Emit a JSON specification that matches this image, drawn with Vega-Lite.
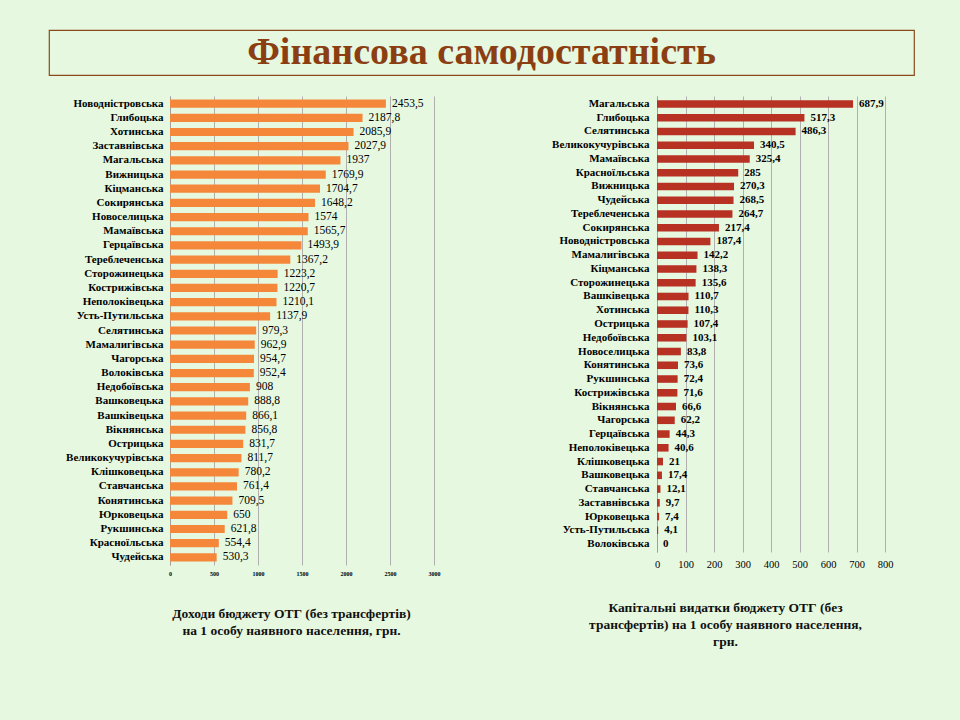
{
  "$schema": "https://vega.github.io/schema/vega-lite/v6.json",
  "background": "#E6F8E0",
  "padding": {"left": 48, "top": 29, "right": 80, "bottom": 120},
  "autosize": {"type": "pad"},
  "datasets": {
    "income": [
      {"name": "Новодністровська", "v": 2453.5},
      {"name": "Глибоцька", "v": 2187.8},
      {"name": "Хотинська", "v": 2085.9},
      {"name": "Заставнівська", "v": 2027.9},
      {"name": "Магальська", "v": 1937},
      {"name": "Вижницька", "v": 1769.9},
      {"name": "Кіцманська", "v": 1704.7},
      {"name": "Сокирянська", "v": 1648.2},
      {"name": "Новоселицька", "v": 1574},
      {"name": "Мамаївська", "v": 1565.7},
      {"name": "Герцаївська", "v": 1493.9},
      {"name": "Тереблеченська", "v": 1367.2},
      {"name": "Сторожинецька", "v": 1223.2},
      {"name": "Кострижівська", "v": 1220.7},
      {"name": "Неполоківецька", "v": 1210.1},
      {"name": "Усть-Путильська", "v": 1137.9},
      {"name": "Селятинська", "v": 979.3},
      {"name": "Мамалигівська", "v": 962.9},
      {"name": "Чагорська", "v": 954.7},
      {"name": "Волоківська", "v": 952.4},
      {"name": "Недобоївська", "v": 908},
      {"name": "Вашковецька", "v": 888.8},
      {"name": "Вашківецька", "v": 866.1},
      {"name": "Вікнянська", "v": 856.8},
      {"name": "Острицька", "v": 831.7},
      {"name": "Великокучурівська", "v": 811.7},
      {"name": "Клішковецька", "v": 780.2},
      {"name": "Ставчанська", "v": 761.4},
      {"name": "Конятинська", "v": 709.5},
      {"name": "Юрковецька", "v": 650},
      {"name": "Рукшинська", "v": 621.8},
      {"name": "Красноїльська", "v": 554.4},
      {"name": "Чудейська", "v": 530.3}
    ],
    "capex": [
      {"name": "Магальська", "v": 687.9},
      {"name": "Глибоцька", "v": 517.3},
      {"name": "Селятинська", "v": 486.3},
      {"name": "Великокучурівська", "v": 340.5},
      {"name": "Мамаївська", "v": 325.4},
      {"name": "Красноїльська", "v": 285},
      {"name": "Вижницька", "v": 270.3},
      {"name": "Чудейська", "v": 268.5},
      {"name": "Тереблеченська", "v": 264.7},
      {"name": "Сокирянська", "v": 217.4},
      {"name": "Новодністровська", "v": 187.4},
      {"name": "Мамалигівська", "v": 142.2},
      {"name": "Кіцманська", "v": 138.3},
      {"name": "Сторожинецька", "v": 135.6},
      {"name": "Вашківецька", "v": 110.7},
      {"name": "Хотинська", "v": 110.3},
      {"name": "Острицька", "v": 107.4},
      {"name": "Недобоївська", "v": 103.1},
      {"name": "Новоселицька", "v": 83.8},
      {"name": "Конятинська", "v": 73.6},
      {"name": "Рукшинська", "v": 72.4},
      {"name": "Кострижівська", "v": 71.6},
      {"name": "Вікнянська", "v": 66.6},
      {"name": "Чагорська", "v": 62.2},
      {"name": "Герцаївська", "v": 44.3},
      {"name": "Неполоківецька", "v": 40.6},
      {"name": "Клішковецька", "v": 21},
      {"name": "Вашковецька", "v": 17.4},
      {"name": "Ставчанська", "v": 12.1},
      {"name": "Заставнівська", "v": 9.7},
      {"name": "Юрковецька", "v": 7.4},
      {"name": "Усть-Путильська", "v": 4.1},
      {"name": "Волоківська", "v": 0}
    ]
  },
  "vconcat": [
    {
      "width": 865,
      "height": 45,
      "data": {"values": [{"t": "Фінансова самодостатність"}]},
      "view": {"stroke": "#8B4A1C", "strokeWidth": 1.2},
      "mark": {"type": "text", "font": "Liberation Serif", "fontWeight": "bold", "fontSize": 38, "color": "#8B3E12", "baseline": "middle", "align": "center"},
      "encoding": {"text": {"field": "t"}}
    },
    {
      "hconcat": [
        {
          "hconcat": [
            {
              "width": 1,
              "height": 1,
              "data": {"values": []},
              "mark": {"type": "text"},
              "encoding": {}
            },
            {
              "width": 264,
              "height": 469,
              "data": {"name": "income"},
              "transform": [{"calculate": "replace(toString(datum.v), '.', ',')", "as": "lbl"}],
              "encoding": {
                "y": {"field": "name", "type": "nominal", "sort": "-x", "title": null,
                  "scale": {"paddingInner": 0.42, "paddingOuter": 0.25},
                  "axis": {"ticks": false, "labelPadding": 7, "minExtent": 120, "labelFont": "Liberation Serif", "labelFontWeight": "bold", "labelFontSize": 11, "labelColor": "#000", "domainColor": "#A0A0A0"}},
                "x": {"field": "v", "type": "quantitative", "scale": {"domain": [0, 3000], "nice": false},
                  "axis": {"values": [0, 500, 1000, 1500, 2000, 2500, 3000], "format": "d", "ticks": false, "domain": false, "grid": true, "gridColor": "#B0B0B0", "labelFlush": false,
                    "labelFont": "Liberation Serif", "labelFontWeight": "bold", "labelFontSize": 6, "labelColor": "#000", "labelPadding": 5,
                    "title": ["Доходи  бюджету ОТГ (без трансфертів)", "на 1 особу  наявного  населення,  грн."],
                    "titleFont": "Liberation Serif", "titleFontWeight": "bold", "titleFontSize": 13.5, "titleColor": "#111", "titlePadding": 30, "titleX": 121, "titleLineHeight": 17}}
              },
              "layer": [
                {"mark": {"type": "bar", "color": "#F5873A"}},
                {"mark": {"type": "text", "align": "left", "dx": 6, "font": "Liberation Serif", "fontSize": 11.5, "color": "#000"},
                  "encoding": {"text": {"field": "lbl"}}}
              ]
            }
          ],
          "spacing": 0
        },
        {
          "width": 228,
          "height": 456,
          "data": {"name": "capex"},
          "transform": [{"calculate": "replace(toString(datum.v), '.', ',')", "as": "lbl"}],
          "encoding": {
            "y": {"field": "name", "type": "nominal", "sort": "-x", "title": null,
              "scale": {"paddingInner": 0.45, "paddingOuter": 0.3},
              "axis": {"ticks": false, "labelPadding": 8, "labelFont": "Liberation Serif", "labelFontWeight": "bold", "labelFontSize": 11, "labelColor": "#000", "domainColor": "#A0A0A0"}},
            "x": {"field": "v", "type": "quantitative", "scale": {"domain": [0, 800], "nice": false},
              "axis": {"values": [0, 100, 200, 300, 400, 500, 600, 700, 800], "format": "d", "ticks": false, "domain": false, "grid": true, "gridColor": "#B0B0B0", "labelFlush": false,
                "labelFont": "Liberation Serif", "labelFontSize": 10.5, "labelColor": "#000", "labelPadding": 7,
                "title": ["Капітальні  видатки бюджету ОТГ (без", "трансфертів)  на 1 особу  наявного  населення,", "грн."],
                "titleFont": "Liberation Serif", "titleFontWeight": "bold", "titleFontSize": 13.5, "titleColor": "#111", "titlePadding": 31, "titleX": 68, "titleLineHeight": 17}}
          },
          "layer": [
            {"mark": {"type": "bar", "color": "#B83224"}},
            {"mark": {"type": "text", "align": "left", "dx": 6, "font": "Liberation Serif", "fontWeight": "bold", "fontSize": 11, "color": "#000"},
              "encoding": {"text": {"field": "lbl"}}}
          ]
        }
      ],
      "spacing": 111
    }
  ],
  "spacing": 20,
  "config": {"view": {"stroke": null}}
}
